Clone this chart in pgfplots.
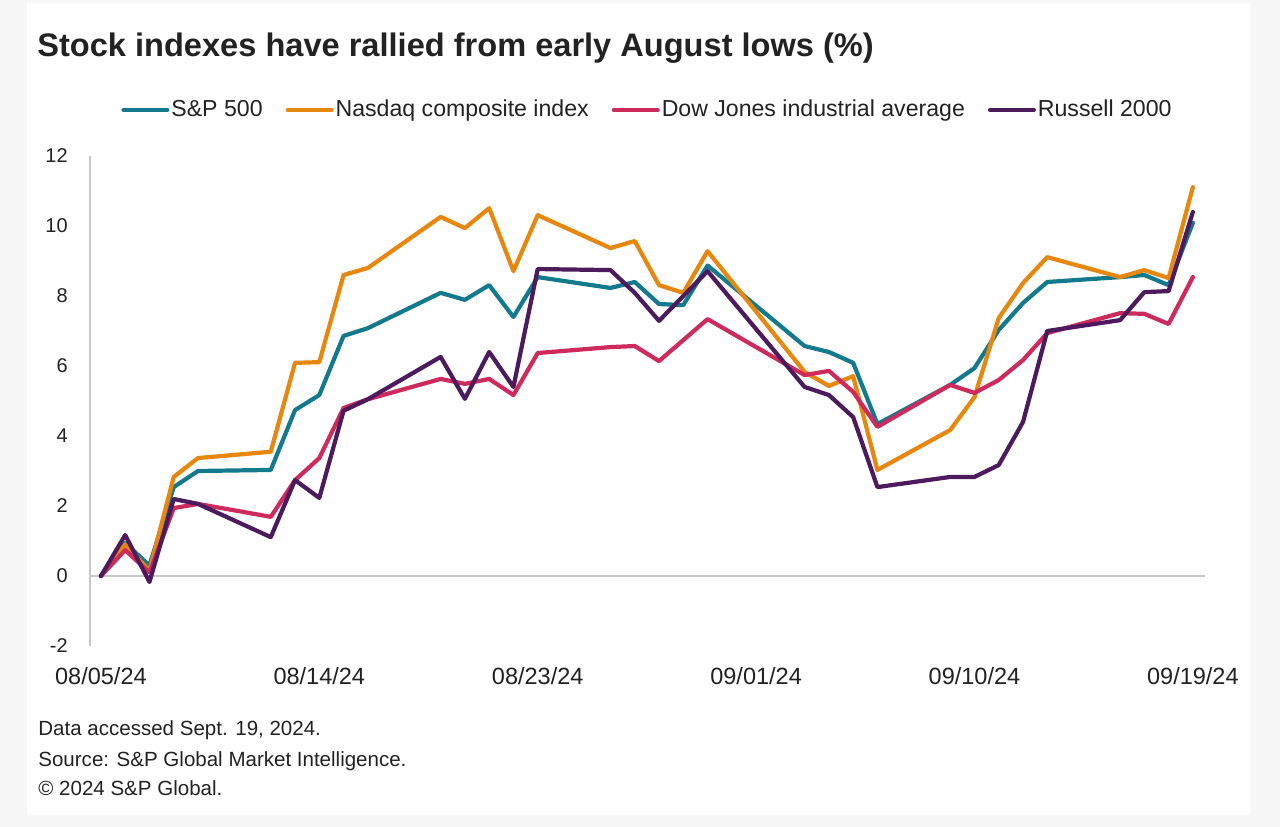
\documentclass[border=0pt]{standalone}
\usepackage{pgfplots}
\pgfplotsset{compat=1.18}
\usepackage{fontspec}
\setmainfont{Liberation Sans}

\definecolor{spteal}{HTML}{137A8E}
\definecolor{nasorange}{HTML}{E8870E}
\definecolor{dowred}{HTML}{CF2A5C}
\definecolor{rusviolet}{HTML}{4E1A5E}
\definecolor{axgray}{HTML}{C8C8C8}
\definecolor{txt}{HTML}{222222}

% days since 08/05/24, trading days only
\pgfplotstableread{
d   sp     nas    dow    rus
0   0      0      0      0
1   0.94   0.90   0.74   1.17
2   0.30   0.15   0.10  -0.17
3   2.54   2.83   1.94   2.20
4   3.00   3.37   2.06   2.06
7   3.03   3.55   1.69   1.11
8   4.74   6.09   2.74   2.74
9   5.17   6.11   3.37   2.23
10  6.86   8.60   4.80   4.72
11  7.08   8.80   5.05   5.05
14  8.09   10.26  5.63   6.26
15  7.89   9.94   5.49   5.06
16  8.31   10.51  5.63   6.40
17  7.40   8.71   5.17   5.40
18  8.54   10.31  6.37   8.77
21  8.23   9.37   6.54   8.74
22  8.40   9.57   6.57   8.09
23  7.77   8.31   6.14   7.29
24  7.74   8.09   6.74   8.00
25  8.87   9.28   7.34   8.71
29  6.57   5.83   5.74   5.40
30  6.40   5.43   5.86   5.17
31  6.09   5.71   5.26   4.54
32  4.34   3.03   4.26   2.54
35  5.46   4.17   5.46   2.83
36  5.94   5.11   5.23   2.83
37  7.03   7.37   5.60   3.17
38  7.80   8.37   6.17   4.40
39  8.40   9.11   6.94   7.00
42  8.54   8.54   7.51   7.31
43  8.60   8.74   7.49   8.11
44  8.31   8.51   7.20   8.14
45  10.09  11.11  8.54   10.40
}\idx

\begin{document}
\begin{tikzpicture}
\fill[black!3] (0bp,0bp) rectangle (640bp,413.5bp);
\fill[white] (13.5bp,6bp) rectangle (625bp,412bp);
\path[use as bounding box] (0bp,0bp) rectangle (640bp,413.5bp);

\node[anchor=base west, inner sep=0, text=txt,
  font=\bfseries\fontsize{16.35}{19}\selectfont] at (18.5bp,385bp)
  {Stock indexes have rallied from early August lows (\%)};

\begin{axis}[
    at={(45bp,90.5bp)}, anchor=south west,
    scale only axis,
    width=557.5bp, height=245bp,
    xmin=-0.45, xmax=45.5,
    ymin=-2, ymax=12,
    axis line style={draw=none},
    major tick length=0pt,
    xtick={0,9,18,27,36,45},
    xticklabels={08/05/24,08/14/24,08/23/24,09/01/24,09/10/24,09/19/24},
    ytick={-2,0,...,12},
    /pgf/number format/assume math mode=true,
    ticklabel style={text=txt},
    xticklabel style={font=\fontsize{11.8}{13}\selectfont, anchor=base, inner sep=0pt, yshift=-19.5bp},
    yticklabel style={font=\fontsize{10}{12}\selectfont, anchor=east, inner sep=0pt, xshift=-11bp},
    extra y ticks={0},
    extra y tick labels={},
    extra x ticks={-0.45},
    extra x tick labels={},
    extra tick style={grid=major, major grid style={axgray, line width=1bp}},
    legend columns=4,
    legend style={
      at={(0.5,1.094)}, anchor=center, draw=none, fill=none,
      font=\fontsize{11.6}{13}\selectfont, text=txt,
      nodes={inner sep=1bp},
      /tikz/every even column/.append style={column sep=10.5bp},
      /tikz/every odd column/.append style={column sep=0bp},
    },
    legend image code/.code={
      \draw[#1, line width=2bp] (0bp,0bp) -- (22bp,0bp);
    },
    every axis plot/.append style={line width=2.1bp, line join=round, line cap=round, mark=none},
]
\addplot[spteal] table[x=d, y=sp] {\idx};
\addlegendentry{S\&P 500}
\addplot[nasorange] table[x=d, y=nas] {\idx};
\addlegendentry{Nasdaq composite index}
\addplot[dowred] table[x=d, y=dow] {\idx};
\addlegendentry{Dow Jones industrial average}
\addplot[rusviolet] table[x=d, y=rus] {\idx};
\addlegendentry{Russell 2000}
\end{axis}

\begin{scope}[font=\fontsize{10.3}{12}\selectfont, text=txt]
\node[anchor=base west, inner sep=0] at (19bp,45.5bp) {Data accessed Sept. 19, 2024.};
\node[anchor=base west, inner sep=0] at (19bp,30.5bp) {Source: S\&P Global Market Intelligence.};
\node[anchor=base west, inner sep=0] at (19bp,16bp) {© 2024 S\&P Global.};
\end{scope}
\end{tikzpicture}
\end{document}
